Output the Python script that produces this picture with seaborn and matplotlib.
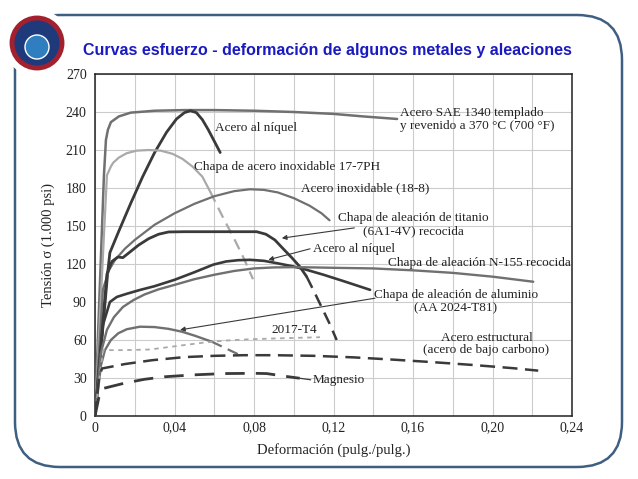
import matplotlib
matplotlib.use("Agg")
import matplotlib.pyplot as plt
import matplotlib.transforms as mtrans
from matplotlib.patches import FancyBboxPatch, Circle
import seaborn as sns
import pandas as pd

# ---------------- data ----------------
sae_x = [0, 0.0045, 0.0055, 0.0065, 0.008, 0.012, 0.018, 0.03, 0.045, 0.06, 0.08, 0.10, 0.12, 0.135, 0.152]
sae_y = [0, 190, 218, 226, 232, 236.5, 239.5, 241, 241.5, 241.5, 241, 240, 238.5, 236.5, 234.5]

niq1_x = [0, 0.0065, 0.0075, 0.012, 0.018, 0.024, 0.030, 0.036, 0.041, 0.045, 0.048, 0.051, 0.054, 0.057, 0.060, 0.063]
niq1_y = [0, 115, 129, 146, 168, 189, 208, 224, 234.5, 239.5, 241, 239.5, 234, 226, 217, 208]

ph17_x = [0, 0.006, 0.008, 0.0092, 0.012, 0.016, 0.021, 0.027, 0.033, 0.039, 0.044, 0.049, 0.054, 0.058]
ph17_y = [0, 190, 197, 200, 204, 207.5, 209.5, 210, 209.5, 207, 203, 197, 189, 177]
ph17d_x = [0.058, 0.064, 0.070, 0.075, 0.0795]
ph17d_y = [177, 158, 140, 124, 108]

ss18_x = [0, 0.004, 0.007, 0.01, 0.015, 0.02, 0.03, 0.04, 0.05, 0.06, 0.07, 0.078, 0.085, 0.092, 0.10, 0.108, 0.114, 0.118]
ss18_y = [0, 100, 115, 123, 132, 139, 151, 160, 167.5, 173.5, 177.5, 179, 178.5, 176.5, 172, 166, 160, 154.5]

ti_x = [0, 0.006, 0.0085, 0.0115, 0.014, 0.018, 0.022, 0.027, 0.032, 0.037, 0.045, 0.06, 0.075, 0.0813, 0.086, 0.0905, 0.0947, 0.099, 0.103, 0.1065]
ti_y = [0, 112, 122, 125.5, 125, 130, 135, 140, 143.5, 145.3, 145.5, 145.5, 145.5, 145.5, 143.5, 139, 132, 125, 118, 110]
tid_x = [0.1065, 0.110, 0.114, 0.118, 0.1216]
tid_y = [110, 99, 86, 73, 60]

niq2_x = [0, 0.004, 0.0075, 0.011, 0.016, 0.0226, 0.03, 0.04, 0.05, 0.0595, 0.066, 0.072, 0.078, 0.085, 0.092, 0.10, 0.1065, 0.115, 0.125, 0.1384]
niq2_y = [0, 72, 90, 94, 96.5, 99.5, 102.5, 107.5, 113.5, 119.5, 122, 123, 123.3, 122.5, 120.5, 118, 115.4, 111.5, 106.5, 99.6]

n155_x = [0, 0.003, 0.006, 0.0095, 0.014, 0.0193, 0.025, 0.032, 0.04, 0.05, 0.06, 0.07, 0.08, 0.09, 0.10, 0.11, 0.12, 0.14, 0.16, 0.18, 0.20, 0.2205]
n155_y = [0, 50, 68, 78, 86, 91.5, 96, 100, 103.5, 108, 111.5, 114.5, 116.5, 117.3, 117.5, 117.3, 117, 116.5, 115, 113, 110, 106]

al_x = [0, 0.003, 0.005, 0.008, 0.0117, 0.016, 0.0226, 0.03, 0.037, 0.0436, 0.05, 0.0587]
al_y = [0, 40, 52, 60, 65.3, 68.5, 70.5, 70.2, 68.8, 66.6, 63.5, 58.7]
ald_x = [0.0587, 0.065, 0.0721]
ald_y = [58.7, 54, 48.7]

t4_x = [0, 0.003, 0.0042, 0.015, 0.0277, 0.035, 0.045, 0.055, 0.065, 0.078, 0.09, 0.1132]
t4_y = [0, 40, 52, 52, 52.5, 54, 56, 58, 59.5, 60.6, 61.2, 62.2]

est_x = [0, 0.002, 0.0035, 0.015, 0.0285, 0.045, 0.06, 0.075, 0.09, 0.11, 0.13, 0.15, 0.17, 0.19, 0.21, 0.223]
est_y = [0, 30, 37.5, 41, 44, 46.5, 47.5, 48, 48, 47.5, 46.3, 44.5, 42.5, 40.3, 37.8, 35.8]

mg_x = [0, 0.002, 0.0035, 0.015, 0.025, 0.0352, 0.05, 0.065, 0.08, 0.0864, 0.095, 0.103]
mg_y = [0, 15, 21.5, 26, 29, 31, 32.5, 33.5, 33.7, 33.5, 31.5, 29.8]

x_ticks = [0, 0.04, 0.08, 0.12, 0.16, 0.20, 0.24]
x_tick_labels = ["0", "0,04", "0,08", "0,12", "0,16", "0,20", "0,24"]
y_ticks = [0, 30, 60, 90, 120, 150, 180, 210, 240, 270]

title = "Curvas esfuerzo - deformación de algunos metales y aleaciones"
xlabel = "Deformación (pulg./pulg.)"
ylabel = "Tensión σ (1.000 psi)"

# ---------------- figure ----------------
sns.set_theme(style="white")
plt.rcParams["font.family"] = ["Liberation Serif", "DejaVu Serif"]

fig = plt.figure(figsize=(6.38, 4.79), dpi=100)
fig.patch.set_facecolor("white")
ax = fig.add_axes([95 / 638, 1 - 416 / 479, (572 - 95) / 638, (416 - 74) / 479])
ax.set_facecolor("white")

DARK = "#3a3a3a"
MID = "#707070"
LIGHT = "#a9a9a9"


def curve(x, y, color, lw, dashes=None, z=3):
    df = pd.DataFrame({"x": x, "y": y})
    sns.lineplot(data=df, x="x", y="y", ax=ax, color=color, lw=lw, sort=False,
                 estimator=None, legend=False, zorder=z,
                 **({"dashes": False} if dashes is None else {}))
    line = ax.lines[-1]
    if dashes is not None:
        line.set_dashes(dashes)
    line.set_solid_capstyle("round")
    return line


curve(sae_x, sae_y, MID, 1.8)
curve(niq1_x, niq1_y, DARK, 2.0)
curve(ph17_x, ph17_y, LIGHT, 1.6)
curve(ph17d_x, ph17d_y, LIGHT, 1.6, dashes=(5, 3))
curve(ss18_x, ss18_y, MID, 1.6)
curve(ti_x, ti_y, DARK, 2.0)
curve(tid_x, tid_y, DARK, 1.8, dashes=(5, 3))
curve(niq2_x, niq2_y, DARK, 1.9)
curve(n155_x, n155_y, MID, 1.7)
curve(al_x, al_y, MID, 1.7)
curve(ald_x, ald_y, MID, 1.6, dashes=(5, 3))
curve(t4_x, t4_y, LIGHT, 1.3, dashes=(2.5, 2.5))
curve(est_x, est_y, DARK, 1.8, dashes=(6, 3))
curve(mg_x, mg_y, DARK, 2.0, dashes=(7, 4))

ax.set_xlim(0, 0.24)
ax.set_ylim(0, 270)
ax.set_xticks(x_ticks)
ax.set_xticklabels(x_tick_labels)
ax.set_yticks(y_ticks)
ax.set_xticks([0.02 * i for i in range(13)], minor=True)
ax.grid(True, which="both", color="#cccccc", lw=0.8)
ax.set_axisbelow(True)
for s in ax.spines.values():
    s.set_color("#222222")
    s.set_linewidth(1.1)
ax.tick_params(axis="both", which="major", labelsize=10, colors="#222222",
               length=4, width=0.8, direction="out", pad=2)
ax.tick_params(axis="x", which="major", length=0, pad=4)
ax.tick_params(axis="both", which="minor", length=0)
ax.set_xlabel(xlabel, fontsize=10.5, color="#222222", labelpad=6)
ax.set_ylabel(ylabel, fontsize=10.5, color="#222222", labelpad=8)

tk = dict(fontsize=9.5, color="#222222", zorder=6)
ax.text(0.0605, 227, "Acero al níquel", ha="left", va="center", **tk)
ax.text(0.0498, 196.7, "Chapa de acero inoxidable 17-7PH", ha="left", va="center", **tk)
ax.text(0.1035, 179.5, "Acero inoxidable (18-8)", ha="left", va="center", **tk)
ax.text(0.1535, 239.5, "Acero SAE 1340 templado", ha="left", va="center", **tk)
ax.text(0.1535, 228.6, "y revenido a 370 °C (700 °F)", ha="left", va="center", **tk)
ax.text(0.160, 156, "Chapa de aleación de titanio", ha="center", va="center", **tk)
ax.text(0.160, 145.6, "(6A1-4V) recocida", ha="center", va="center", **tk)
ax.text(0.1095, 131.7, "Acero al níquel", ha="left", va="center", **tk)
ax.text(0.1476, 120.6, "Chapa de aleación N-155 recocida", ha="left", va="center", **tk)
ax.text(0.1815, 95.6, "Chapa de aleación de aluminio", ha="center", va="center", **tk)
ax.text(0.1815, 85.1, "(AA 2024-T81)", ha="center", va="center", **tk)
ax.text(0.1005, 68, "2017-T4", ha="center", va="center", **tk)
ax.text(0.197, 61.4, "Acero estructural", ha="center", va="center", **tk)
ax.text(0.197, 52.1, "(acero de bajo carbono)", ha="center", va="center", **tk)
ax.text(0.1095, 28.4, "Magnesio", ha="left", va="center", **tk)

arr = dict(arrowstyle="-|>", color=DARK, lw=0.8, mutation_scale=7, shrinkA=0, shrinkB=0)
ax.annotate("", xy=(0.094, 140.4), xytext=(0.1305, 148.5), arrowprops=arr)
ax.annotate("", xy=(0.0872, 123.3), xytext=(0.1082, 132.0), arrowprops=arr)
ax.annotate("", xy=(0.0428, 68.0), xytext=(0.1409, 93.0), arrowprops=arr)
ax.annotate("", xy=(0.103, 29.8), xytext=(0.1085, 28.6),
            arrowprops=dict(arrowstyle="-", color=DARK, lw=0.9, shrinkA=0, shrinkB=0))

# ---------------- slide decoration ----------------
ident = mtrans.IdentityTransform()
frame = FancyBboxPatch((15, 12), 607, 452, boxstyle="round,pad=0,rounding_size=45",
                       transform=ident, fill=False, edgecolor="#3f5f82", lw=1.8, zorder=0)
fig.add_artist(frame)
fig.add_artist(Circle((37, 436), 28, transform=ident, facecolor="white",
                      edgecolor="white", lw=8, zorder=5))
fig.add_artist(Circle((37, 436), 25, transform=ident, facecolor="#1e3a7a",
                      edgecolor="#a3202e", lw=3.5, zorder=6))
fig.add_artist(Circle((37, 432), 12, transform=ident, facecolor="#2f7fc0",
                      edgecolor="white", lw=1, zorder=7))

fig.text(83 / 638, 1 - 50 / 479, title, ha="left", va="center", fontsize=11.5,
         fontweight="bold", color="#1a1ac0", family=["Liberation Sans", "DejaVu Sans"])

fig.savefig("out.png", dpi=100, facecolor="white")
